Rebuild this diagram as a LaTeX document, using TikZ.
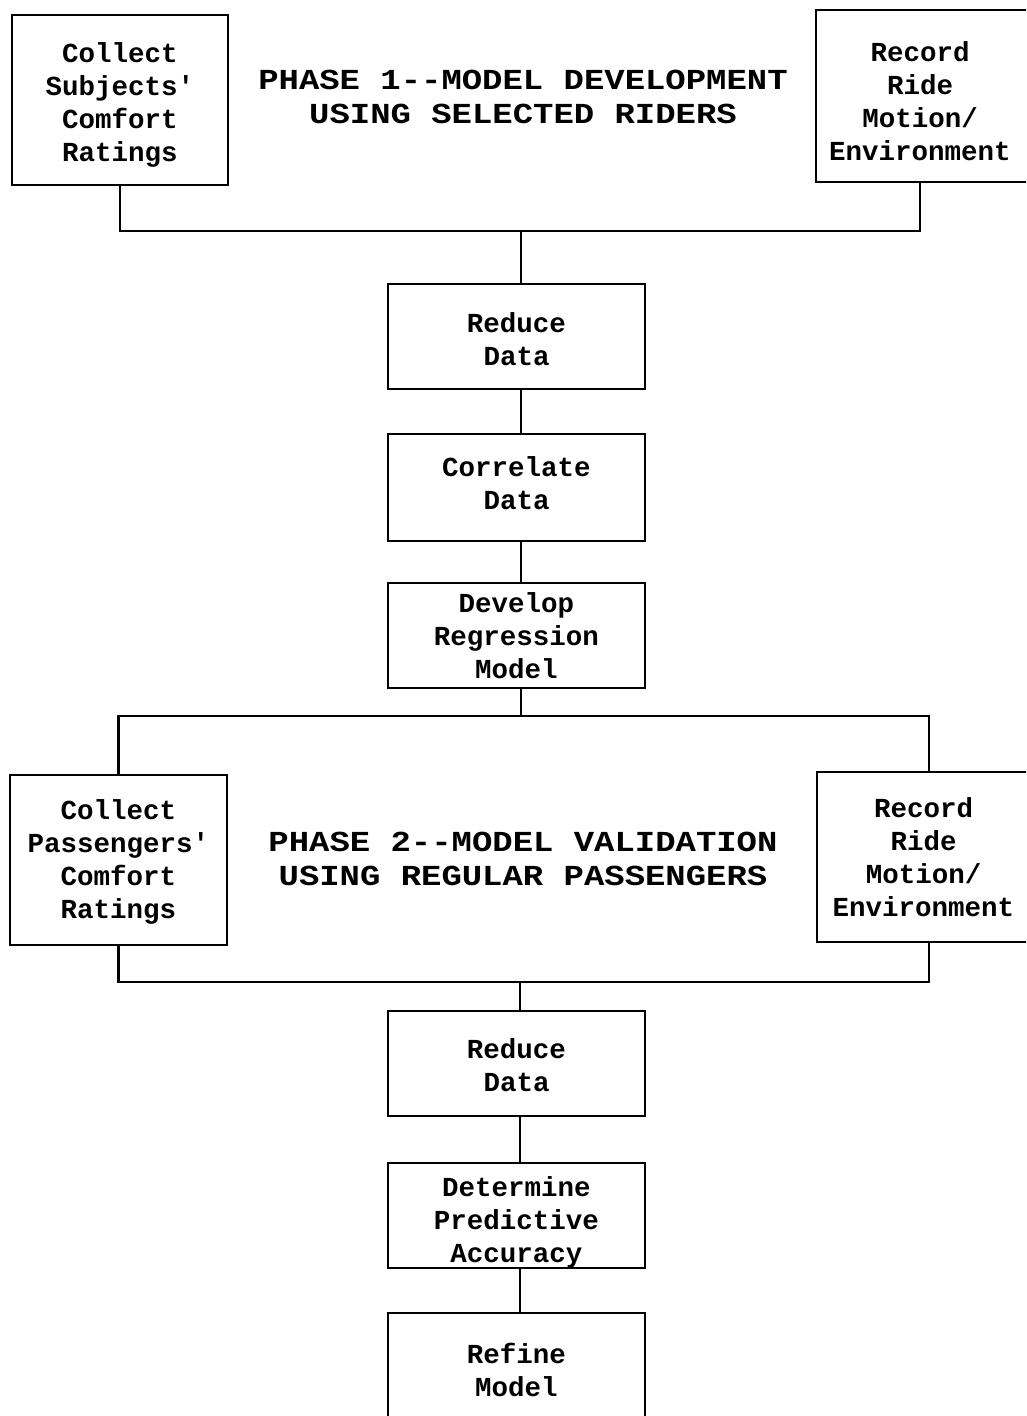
\documentclass[tikz,border=0pt]{standalone}
\usepackage{fontspec}
\usepackage{graphicx}
\newfontfamily\boxfont{Liberation Mono Bold}
\tikzset{
  box/.style={draw, line width=2.3pt, inner sep=0pt},
  boxtext/.style={inner sep=0pt, align=center,
    font=\boxfont\fontsize{27.5}{33}\selectfont},
  link/.style={line width=2.3pt},
  phase/.style={inner sep=0pt, align=center}
}
\newcommand{\phasetext}[2]{\scalebox{1.17}[1]{\boxfont\fontsize{29}{34}\selectfont\begin{tabular}{@{}c@{}}#1\\#2\end{tabular}}}
\begin{document}
\begin{tikzpicture}[x=1pt,y=-1pt]
\clip (0,0) rectangle (1026,1416);
\fill[white] (0,0) rectangle (1026,1416);
% phase 1
\node[box, minimum width=216pt, minimum height=170pt] (b1) at (120,100) {};
\node[boxtext] (t1) at ([yshift=-5pt]b1.center) {Collect\\Subjects'\\Comfort\\Ratings};
\node[box, minimum width=212pt, minimum height=172pt] (b2) at (922,96) {};
\node[boxtext] (t2) at ([yshift=-5pt,xshift=-2pt]b2.center) {Record\\Ride\\Motion/\\Environment};
\node[phase] (p1) at (523,100) {\phasetext{PHASE 1--MODEL DEVELOPMENT}{USING SELECTED RIDERS}};
\node[box, minimum width=257pt, minimum height=105pt] (r1) at (516.5,336.5) {};
\node[boxtext] (t3) at ([yshift=-3pt]r1.center) {Reduce\\Data};
\node[box, minimum width=257pt, minimum height=107pt] (c1) at (516.5,487.5) {};
\node[boxtext] (t4) at ([yshift=4pt]c1.center) {Correlate\\Data};
\node[box, minimum width=257pt, minimum height=105pt] (d1) at (516.5,635.5) {};
\node[boxtext] (t5) at (d1.center) {Develop\\Regression\\Model};
% phase 2
\node[box, minimum width=217pt, minimum height=170pt] (b3) at (118.5,860) {};
\node[boxtext] (t6) at ([yshift=-2pt]b3.center) {Collect\\Passengers'\\Comfort\\Ratings};
\node[box, minimum width=213pt, minimum height=170pt] (b4) at (923.5,857) {};
\node[boxtext] (t7) at (b4.center) {Record\\Ride\\Motion/\\Environment};
\node[phase] (p2) at (523,862) {\phasetext{PHASE 2--MODEL VALIDATION}{USING REGULAR PASSENGERS}};
\node[box, minimum width=257pt, minimum height=105pt] (r2) at (516.5,1063.5) {};
\node[boxtext] (t8) at ([yshift=-1.5pt]r2.center) {Reduce\\Data};
\node[box, minimum width=257pt, minimum height=105pt] (dt) at (516.5,1215.5) {};
\node[boxtext] (t9) at ([yshift=-7pt]dt.center) {Determine\\Predictive\\Accuracy};
\node[box, minimum width=257pt, minimum height=114pt] (rf) at (516.5,1370) {};
\node[boxtext] (t10) at (rf.center) {Refine\\Model};
% junctions
\coordinate (j1) at (521,231);
\coordinate (j2) at (521,716);
\coordinate (j3) at (520,982);
% connectors phase 1
\draw[link] (b1.south) |- (j1) -| ([xshift=-2pt]b2.south);
\draw[link] (j1) -- (j1 |- r1.north);
\draw[link] (j1 |- r1.south) -- (j1 |- c1.north);
\draw[link] (j1 |- c1.south) -- (j1 |- d1.north);
\draw[link] (j1 |- d1.south) -- (j2);
% connectors phase 2
\draw[link] (b3.north) |- (j2) -| ([xshift=5.5pt]b4.north);
\draw[link] (b3.south) |- (j3) -| ([xshift=5.5pt]b4.south);
\draw[link] (j3) -- (j3 |- r2.north);
\draw[link] (j3 |- r2.south) -- (j3 |- dt.north);
\draw[link] (j3 |- dt.south) -- (j3 |- rf.north);
\end{tikzpicture}
\end{document}
